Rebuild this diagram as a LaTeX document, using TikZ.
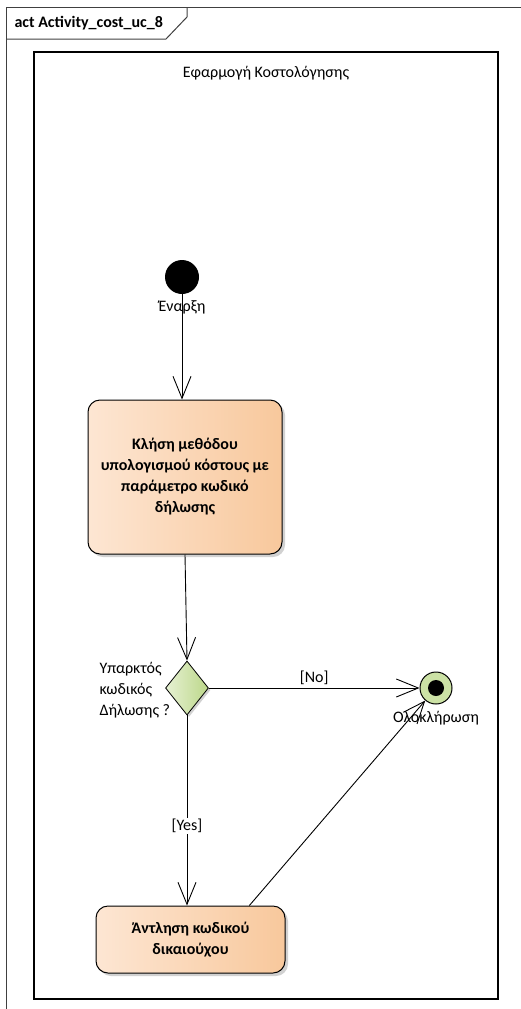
\documentclass[tikz,border=0pt]{standalone}
\usepackage{fontspec}
\setmainfont{Carlito}
\usepackage{xcolor}
\usetikzlibrary{shapes.geometric}
\usetikzlibrary{arrows.meta}
\usetikzlibrary{shadows}
\definecolor{actleft}{HTML}{FDE6D3}
\definecolor{actright}{HTML}{F8C89C}
\definecolor{decleft}{HTML}{E6F1D3}
\definecolor{decright}{HTML}{BCD789}
\definecolor{finalgreen}{HTML}{CCE2A5}
\definecolor{framegray}{HTML}{404040}

\begin{document}
\begin{tikzpicture}[x=1pt, y=-1pt, font=\fontsize{16}{21}\selectfont,
		flow/.style={-{Straight Barb[length=22pt, width=18pt]}, line width=0.9pt},
		action/.style={draw, line width=1pt, rounded corners=12pt, left color=actleft, right color=actright,
			font=\fontsize{16}{21}\selectfont\bfseries, align=center,
			drop shadow={shadow xshift=3pt, shadow yshift=-3pt, fill=black, opacity=0.18}},
		decision/.style={diamond, draw, line width=0.8pt, inner sep=0pt, left color=decleft, right color=decright,
			drop shadow={shadow xshift=2pt, shadow yshift=-2pt, fill=black, opacity=0.18}}]
					\useasboundingbox (0, 0) rectangle (521, 1009);
					\draw[framegray, line width=1pt] (6, 1009)--(6, 7)--(521, 7);
					\draw[framegray, line width=1pt] (6, 39)--(166, 39)--(187, 17)--(187, 7);
					\node[anchor=west, font=\fontsize{16}{21}\selectfont\bfseries] (title) at (11, 23) {act Activity\_cost\_uc\_8};
					\node[draw, line width=1.3pt, minimum width=464, minimum height=947, inner sep=0pt] (app) at (266, 525.5) {};
					\node (appname) at (266, 73) {Εφαρμογή Κοστολόγησης};

					\node[circle, fill=black, minimum size=34, inner sep=0pt] (start) at (182, 277) {};
					\node (startlbl) at (182, 307) {Έναρξη};

					\node[action, minimum width=194, minimum height=154] (call) at (185, 477)
						{Κλήση μεθόδου\\υπολογισμού κόστους με\\παράμετρο κωδικό\\δήλωσης};

					\node[decision, minimum width=43, minimum height=54] (check) at (187, 688) {};
					\node[anchor=north west, align=left] (checklbl) at (96, 659) {Υπαρκτός\\κωδικός\\Δήλωσης ?};

					\node[circle, draw, line width=1pt, fill=finalgreen, minimum size=32, inner sep=0pt] (end) at (436, 688) {};
					\node[circle, fill=black, minimum size=16, inner sep=0pt] (enddot) at (end) {};
					\node (endlbl) at (436, 718) {Ολοκλήρωση};

					\node[action, minimum width=189, minimum height=67] (fetch) at (190.5, 939.5)
						{Άντληση κωδικού\\δικαιούχου};

					\draw[flow] (start)--(start |- call.north);
					\draw[flow] (call.south)--(check.north);
					\draw[flow] (check.east)--node[above, inner sep=3pt] {[No]} (end.west);
					\draw[flow] (check.south)--node[pos=0.58, fill=white, inner sep=1pt] {[Yes]} (check.south |- fetch.north);
					\draw[flow] (fetch.30)--(end);
			\end{tikzpicture}
\end{document}
